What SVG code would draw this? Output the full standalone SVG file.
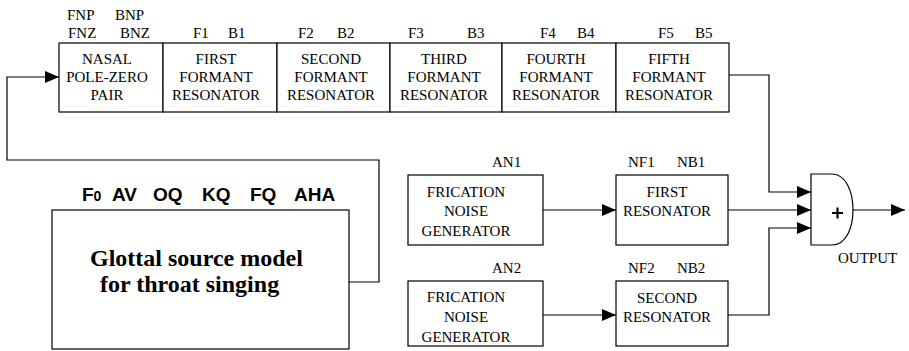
<svg xmlns="http://www.w3.org/2000/svg" width="909" height="351" viewBox="0 0 909 351">
<style>
.box{fill:#fff;stroke:#000;stroke-width:1.2}
.t{font-family:"Liberation Serif","Times New Roman",Times,"DejaVu Serif",serif;font-size:15px;fill:#000}
.c{text-anchor:middle}
.w{fill:none;stroke:#000;stroke-width:1.2}
.b{font-family:"Liberation Sans",Arial,sans-serif;font-weight:bold;font-size:19px}
.g{font-family:"Liberation Serif","Times New Roman",Times,"DejaVu Serif",serif;font-weight:bold;font-size:24px}
</style>
<defs>
<marker id="ah" markerUnits="userSpaceOnUse" markerWidth="15" markerHeight="12" refX="14" refY="6" orient="auto">
<path d="M0,0 L14,6 L0,12 Z" fill="#000"/>
</marker>
</defs>
<rect width="909" height="351" fill="#fff"/>

<g id="nasal">
<rect class="box" x="59" y="43" width="104" height="69"/>
<text class="t" x="67" y="20">FNP</text><text class="t" x="115" y="20">BNP</text>
<text class="t" x="68" y="38">FNZ</text><text class="t" x="120" y="38">BNZ</text>
<text class="t c" x="107" y="64">NASAL</text>
<text class="t c" x="107" y="82">POLE-ZERO</text>
<text class="t c" x="107" y="100">PAIR</text>
</g>
<g id="f1">
<rect class="box" x="163" y="43" width="114" height="69"/>
<text class="t" x="193" y="38">F1</text><text class="t" x="228" y="38">B1</text>
<text class="t c" x="216" y="64">FIRST</text>
<text class="t c" x="216" y="82">FORMANT</text>
<text class="t c" x="216" y="100">RESONATOR</text>
</g>
<g id="f2">
<rect class="box" x="277" y="43" width="113" height="69"/>
<text class="t" x="298" y="38">F2</text><text class="t" x="337" y="38">B2</text>
<text class="t c" x="331" y="64">SECOND</text>
<text class="t c" x="331" y="82">FORMANT</text>
<text class="t c" x="331" y="100">RESONATOR</text>
</g>
<g id="f3">
<rect class="box" x="390" y="43" width="112" height="69"/>
<text class="t" x="408" y="38">F3</text><text class="t" x="467" y="38">B3</text>
<text class="t c" x="444" y="64">THIRD</text>
<text class="t c" x="444" y="82">FORMANT</text>
<text class="t c" x="444" y="100">RESONATOR</text>
</g>
<g id="f4">
<rect class="box" x="502" y="43" width="114" height="69"/>
<text class="t" x="540" y="38">F4</text><text class="t" x="577" y="38">B4</text>
<text class="t c" x="556" y="64">FOURTH</text>
<text class="t c" x="556" y="82">FORMANT</text>
<text class="t c" x="556" y="100">RESONATOR</text>
</g>
<g id="f5">
<rect class="box" x="616" y="43" width="113" height="69"/>
<text class="t" x="658" y="38">F5</text><text class="t" x="695" y="38">B5</text>
<text class="t c" x="669" y="64">FIFTH</text>
<text class="t c" x="669" y="82">FORMANT</text>
<text class="t c" x="669" y="100">RESONATOR</text>
</g>

<g id="glottal">
<text class="b"><tspan x="82" y="201">F</tspan><tspan font-size="14">0</tspan><tspan x="112">AV</tspan><tspan x="153">OQ</tspan><tspan x="202">KQ</tspan><tspan x="250">FQ</tspan><tspan x="294">AHA</tspan></text>
<rect class="box" x="52" y="210" width="297" height="139"/>
<text class="g" x="90" y="266">Glottal source model</text>
<text class="g" x="100" y="292">for throat singing</text>
</g>

<g id="fric1">
<text class="t" x="492" y="167">AN1</text>
<rect class="box" x="408" y="175" width="135" height="70"/>
<text class="t c" x="466" y="197">FRICATION</text>
<text class="t c" x="466" y="216">NOISE</text>
<text class="t c" x="466" y="236">GENERATOR</text>
</g>
<g id="fric2">
<text class="t" x="492" y="273">AN2</text>
<rect class="box" x="408" y="281" width="135" height="65"/>
<text class="t c" x="466" y="302">FRICATION</text>
<text class="t c" x="466" y="322">NOISE</text>
<text class="t c" x="466" y="342">GENERATOR</text>
</g>
<g id="nres1">
<text class="t" x="628" y="167">NF1</text><text class="t" x="677" y="167">NB1</text>
<rect class="box" x="616" y="175" width="112" height="70"/>
<text class="t c" x="667" y="197">FIRST</text>
<text class="t c" x="667" y="216">RESONATOR</text>
</g>
<g id="nres2">
<text class="t" x="628" y="273">NF2</text><text class="t" x="677" y="273">NB2</text>
<rect class="box" x="616" y="281" width="112" height="65"/>
<text class="t c" x="667" y="303">SECOND</text>
<text class="t c" x="667" y="322">RESONATOR</text>
</g>
<g id="sum">
<path class="box" d="M811,174 H832 C846,174 853,192 853,210 C853,228 846,245 832,245 H811 Z"/>
<path d="M832,213 h11 M837.5,207.5 v11" stroke="#000" stroke-width="2.2"/>
<text class="t" x="838" y="263">OUTPUT</text>
</g>

<g id="connectors" class="w">
<path class="w" d="M349,282 H379 V160 H7 V77 H59" marker-end="url(#ah)"/>
<path class="w" d="M729,75 H769 V192 H811" marker-end="url(#ah)"/>
<path class="w" d="M728,210 H811" marker-end="url(#ah)"/>
<path class="w" d="M728,315 H769 V228 H811" marker-end="url(#ah)"/>
<path class="w" d="M543,210 H616" marker-end="url(#ah)"/>
<path class="w" d="M543,315 H616" marker-end="url(#ah)"/>
<path class="w" d="M853,210 H905" marker-end="url(#ah)"/>
</g>
</svg>
